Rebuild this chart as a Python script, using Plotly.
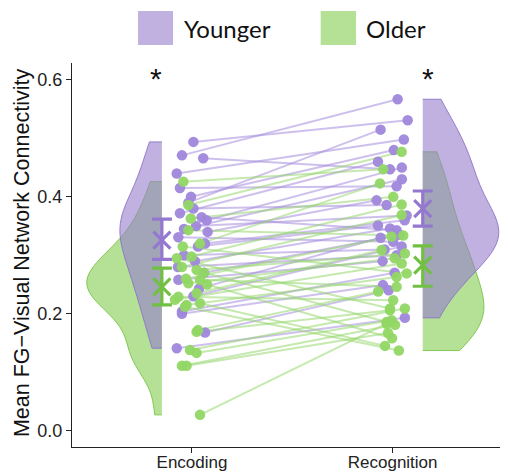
import numpy as np
import plotly.graph_objects as go

# ---------------- data ----------------
conditions = ["Encoding", "Recognition"]
cond_pos = [1, 2]
groups = ["Younger", "Older"]

young_enc = [0.494, 0.471, 0.466, 0.440, 0.415, 0.400, 0.390, 0.380, 0.372, 0.365,
             0.360, 0.350, 0.345, 0.340, 0.331, 0.320, 0.315, 0.300, 0.290, 0.280,
             0.270, 0.258, 0.243, 0.230, 0.204, 0.200, 0.168, 0.141]
young_rec = [0.531, 0.567, 0.447, 0.498, 0.418, 0.480, 0.515, 0.386, 0.460, 0.343,
             0.450, 0.368, 0.430, 0.394, 0.323, 0.360, 0.351, 0.310, 0.346, 0.300,
             0.335, 0.290, 0.330, 0.315, 0.270, 0.249, 0.240, 0.193]
old_enc = [0.426, 0.386, 0.363, 0.343, 0.320, 0.315, 0.298, 0.295, 0.280, 0.275,
           0.270, 0.260, 0.258, 0.252, 0.250, 0.235, 0.229, 0.224, 0.218, 0.215,
           0.212, 0.172, 0.169, 0.138, 0.133, 0.111, 0.111, 0.027]
old_rec = [0.447, 0.477, 0.400, 0.334, 0.423, 0.269, 0.387, 0.209, 0.369, 0.303,
           0.186, 0.332, 0.246, 0.295, 0.158, 0.309, 0.223, 0.286, 0.145, 0.263,
           0.137, 0.238, 0.206, 0.209, 0.189, 0.181, 0.167, 0.183]

# horizontal jitter of each subject's points (category units)
young_enc_jit = [0.007, -0.050, 0.056, -0.076, -0.060, -0.005, -0.018, 0.007, -0.060, 0.048,
                 0.073, 0.020, -0.040, 0.078, -0.068, 0.065, 0.030, -0.040, 0.015, -0.070,
                 0.060, -0.068, 0.035, 0.007, -0.050, -0.050, 0.065, -0.076]
young_rec_jit = [0.075, 0.025, -0.013, 0.056, 0.020, 0.006, -0.060, -0.030, -0.073, 0.020,
                 0.046, 0.070, 0.046, -0.080, 0.003, 0.060, -0.073, -0.040, -0.013, 0.020,
                 0.035, -0.050, -0.060, 0.045, 0.010, -0.048, -0.020, 0.061]
old_enc_jit = [-0.043, -0.018, -0.006, -0.018, 0.040, -0.046, -0.002, -0.076, -0.050, 0.023,
               0.060, -0.030, 0.040, -0.018, 0.075, 0.023, -0.068, -0.085, 0.040, -0.027,
               -0.035, 0.030, 0.023, -0.010, 0.023, -0.050, -0.027, 0.040]
old_rec_jit = [-0.047, 0.045, 0.003, 0.053, -0.063, 0.070, 0.045, -0.013, 0.045, 0.061,
               -0.030, -0.005, 0.020, 0.010, -0.003, -0.055, 0.003, 0.045, -0.038, 0.020,
               0.031, -0.072, -0.013, 0.061, -0.005, 0.012, -0.023, -0.030]

# group means and error-bar limits per condition
young_mean = [0.326, 0.380]
young_lo = [0.293, 0.350]
young_hi = [0.362, 0.410]
old_mean = [0.246, 0.283]
old_lo = [0.215, 0.247]
old_hi = [0.278, 0.316]

y_ticks = [0.0, 0.2, 0.4, 0.6]
y_ticklabels = ["0.0", "0.2", "0.4", "0.6"]
y_title = "Mean FG\u2212Visual Network Connectivity"
sig_labels = ["*", "*"]

# ---------------- style ----------------
P_FILL = "rgba(150,125,205,0.6)"
G_FILL = "rgba(130,205,80,0.6)"
P_EDGE = "rgba(140,115,200,0.9)"
G_EDGE = "rgba(120,195,70,0.9)"
P_PT = "rgba(160,135,220,0.95)"
G_PT = "rgba(145,215,100,0.95)"
P_LN = "rgba(165,140,220,0.55)"
G_LN = "rgba(150,215,110,0.55)"
P_MEAN = "#9478d0"
G_MEAN = "#72c043"
AXC = "#222222"
FONT = "Liberation Sans, Arial, sans-serif"

VIO_OFF = 0.15      # violin / mean offset from category centre
SIG_OFF = 0.178
BW_ADJ = 1.15


def nrd0(v):
    v = np.asarray(v)
    sd = v.std(ddof=1)
    iqr = np.subtract(*np.percentile(v, [75, 25]))
    return 0.9 * min(sd, iqr / 1.34) * len(v) ** -0.2


fig = go.Figure()

# half violins (older under, younger on top)
vio_specs = [
    (old_enc, cond_pos[0] - VIO_OFF, "negative", 0.374, G_FILL, G_EDGE),
    (old_rec, cond_pos[1] + VIO_OFF, "positive", 0.304, G_FILL, G_EDGE),
    (young_enc, cond_pos[0] - VIO_OFF, "negative", 0.209, P_FILL, P_EDGE),
    (young_rec, cond_pos[1] + VIO_OFF, "positive", 0.379, P_FILL, P_EDGE),
]
for vals, pos, side, half, fc, lc in vio_specs:
    fig.add_trace(go.Violin(
        y=vals, x0=pos, side=side, width=2 * half, spanmode="hard",
        bandwidth=BW_ADJ * nrd0(vals), scalemode="width",
        fillcolor=fc, line=dict(color=lc, width=1),
        points=False, box_visible=False, meanline_visible=False,
        showlegend=False, hoverinfo="skip"))


def paired(enc, rec, ejit, rjit):
    xs, ys = [], []
    for e, r, je, jr in zip(enc, rec, ejit, rjit):
        xs += [cond_pos[0] + je, cond_pos[1] + jr, None]
        ys += [e, r, None]
    return xs, ys


for enc, rec, ej, rj, lc in [(young_enc, young_rec, young_enc_jit, young_rec_jit, P_LN),
                             (old_enc, old_rec, old_enc_jit, old_rec_jit, G_LN)]:
    xs, ys = paired(enc, rec, ej, rj)
    fig.add_trace(go.Scatter(x=xs, y=ys, mode="lines",
                             line=dict(color=lc, width=2),
                             showlegend=False, hoverinfo="skip"))

for enc, rec, ej, rj, pc in [(young_enc, young_rec, young_enc_jit, young_rec_jit, P_PT),
                             (old_enc, old_rec, old_enc_jit, old_rec_jit, G_PT)]:
    xs = [cond_pos[0] + j for j in ej] + [cond_pos[1] + j for j in rj]
    ys = list(enc) + list(rec)
    fig.add_trace(go.Scatter(x=xs, y=ys, mode="markers",
                             marker=dict(color=pc, size=10.5, line=dict(width=0)),
                             showlegend=False, hoverinfo="skip"))

mean_x = [cond_pos[0] - VIO_OFF, cond_pos[1] + VIO_OFF]
for m, lo, hi, col in [(young_mean, young_lo, young_hi, P_MEAN),
                       (old_mean, old_lo, old_hi, G_MEAN)]:
    fig.add_trace(go.Scatter(
        x=mean_x, y=m, mode="markers",
        marker=dict(symbol="x-thin", size=17, line=dict(color=col, width=3.2)),
        error_y=dict(type="data", symmetric=False,
                     array=[h - v for h, v in zip(hi, m)],
                     arrayminus=[v - l for l, v in zip(lo, m)],
                     color=col, thickness=3.2, width=10),
        showlegend=False, hoverinfo="skip"))

# significance markers
for i, s in enumerate(sig_labels):
    xpos = cond_pos[i] + (-SIG_OFF if i == 0 else SIG_OFF)
    fig.add_annotation(x=xpos, y=0.603, text=s, showarrow=False,
                       font=dict(family=FONT, size=30, color="#111"),
                       xanchor="center", yanchor="middle")

# y-axis title
fig.add_annotation(xref="paper", yref="paper", x=-0.1147, y=0.505, text=y_title,
                   textangle=-90, showarrow=False, xanchor="center", yanchor="middle",
                   font=dict(family=FONT, size=21.5, color="#111"))

# manual legend (large swatches)
legend_items = [(groups[0], P_FILL, 0.1514, 0.2317, 0.2516),
                (groups[1], G_FILL, 0.5704, 0.6514, 0.6697)]
for name, col, x0, x1, tx in legend_items:
    fig.add_shape(type="rect", xref="paper", yref="paper",
                  x0=x0, x1=x1, y0=1.0469, y1=1.1354,
                  fillcolor=col, line=dict(width=0))
    fig.add_annotation(xref="paper", yref="paper", x=tx, y=1.0911, text=name,
                       showarrow=False, xanchor="left", yanchor="middle",
                       font=dict(family="Lato, Open Sans, sans-serif", size=24, color="#111"))

# the page body adds an 8px offset, so the figure is 8px smaller on each edge
fig.update_layout(
    width=500, height=464,
    margin=dict(l=64, r=0, t=55, b=25),
    paper_bgcolor="white", plot_bgcolor="white",
    violinmode="overlay",
    showlegend=False,
    font=dict(family=FONT, color=AXC),
    xaxis=dict(type="linear", range=[0.402, 2.575], tickvals=cond_pos, ticktext=conditions,
               showline=True, linecolor=AXC, linewidth=1.3, ticks="outside", ticklen=5,
               tickcolor=AXC, tickwidth=1.2, tickfont=dict(size=17, family=FONT, color=AXC),
               ticklabelstandoff=-6,
               showgrid=False, zeroline=False, automargin=False),
    yaxis=dict(range=[-0.028, 0.629], tickvals=y_ticks, ticktext=y_ticklabels,
               showline=True, linecolor=AXC, linewidth=1.3, ticks="outside", ticklen=5,
               tickcolor=AXC, tickwidth=1.2, tickfont=dict(size=18, family=FONT, color=AXC),
               showgrid=False, zeroline=False, automargin=False),
)

fig.write_html("out.html")
